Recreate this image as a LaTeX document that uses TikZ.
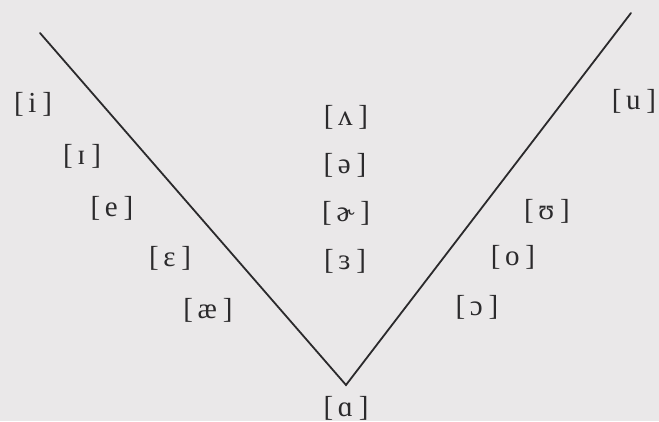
\documentclass[tikz,border=0pt]{standalone}
\usepackage{fontspec}
\setmainfont{Liberation Serif}
\usetikzlibrary{positioning}
\definecolor{paper}{HTML}{EAE8E9}
\definecolor{ink}{HTML}{2B2A2C}
\tikzset{
  % bracketed vowel symbol
  vow/.style  = {inner sep=0pt, text=ink, font=\fontsize{29}{32}\selectfont},
  edge/.style = {draw=ink, line width=1.8pt, line cap=round},
}
\newcommand{\ipa}[1]{[\hspace{0.16em}#1\hspace{0.2em}]}

\begin{document}
\begin{tikzpicture}[x=1pt,y=-1pt]
% paper
\fill[paper] (0,0) rectangle (659,421);
\useasboundingbox (0,0) rectangle (659,421);
% the V
\coordinate (lt) at (40,33);
\coordinate (vx) at (346,385);
\coordinate (rt) at (631,13);
\draw[edge] (lt) -- (vx) -- (rt);
% front vowels
\node[vow] (vi)   at (33,104)  {\ipa{i}};
\node[vow] (vI)   at (82,156)  {\ipa{ɪ}};
\node[vow] (ve)   at (112,208) {\ipa{e}};
\node[vow] (veps) at (170,258) {\ipa{ɛ}};
\node[vow] (vae)  at (208,310) {\ipa{æ}};
% central vowels
\node[vow] (vwedge) at (346,117) {\ipa{ʌ}};
\node[vow] (vschwa) at (345,165) {\ipa{ə}};
\node[vow] (vhook)  at (346,213) {\ipa{ɚ}};
\node[vow] (vrevE)  at (345,261) {\ipa{ɜ}};
% back vowels
\node[vow] (vu)    at (634,101) {\ipa{u}};
\node[vow] (vups)  at (547,211) {\ipa{ʊ}};
\node[vow] (vo)    at (513,257) {\ipa{o}};
\node[vow] (vopen) at (477,307) {\ipa{ɔ}};
% low vowel
\node[vow] (va) at (346,408) {\ipa{ɑ}};
\end{tikzpicture}
\end{document}
